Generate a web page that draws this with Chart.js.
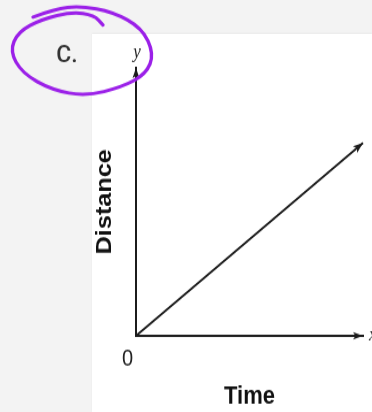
<!DOCTYPE html>
<html>
<head>
<meta charset="utf-8">
<script src="https://cdn.jsdelivr.net/npm/chart.js@4"></script>
<style>
  html, body { margin: 0; padding: 0; width: 372px; height: 412px; overflow: hidden; background: #f3f3f3; }
  #panel { position: absolute; left: 92px; top: 34px; right: 0; bottom: 0; background: #ffffff; box-shadow: 0 -1px 2px rgba(0,0,0,0.04); }
  /* the figure is drawn slightly taller than wide */
  #wrap { position: absolute; left: 0; top: 0; width: 372px; height: 358px; transform: scaleY(1.15); transform-origin: 0 0; }
</style>
</head>
<body>
<div id="panel"></div>
<div id="wrap"><canvas id="c" width="372" height="358"></canvas></div>
<script>
// Distance grows steadily with time
const timeValues = [0, 10];
const distanceValues = [0, 7.2];
const xTickLabels = ['0'];
const xTitle = 'Time';
const yTitle = 'Distance';
const xAxisLetter = 'x';
const yAxisLetter = 'y';
const partLabel = 'C.';

const STRETCH = 1.15;
const INK = '#1c1c1c';

function arrowHead(ctx, x, y, angle, len, half) {
  ctx.save();
  ctx.translate(x, y);
  ctx.rotate(angle);
  ctx.beginPath();
  ctx.moveTo(0, 0);
  ctx.lineTo(-len, -half);
  ctx.lineTo(-len * 0.75, 0);
  ctx.lineTo(-len, half);
  ctx.closePath();
  ctx.fill();
  ctx.restore();
}

// smooth closed-ish freehand loop through the given points
function freehand(ctx, pts) {
  ctx.beginPath();
  ctx.moveTo(pts[0][0], pts[0][1]);
  for (let i = 1; i < pts.length - 1; i++) {
    const mx = (pts[i][0] + pts[i + 1][0]) / 2;
    const my = (pts[i][1] + pts[i + 1][1]) / 2;
    ctx.quadraticCurveTo(pts[i][0], pts[i][1], mx, my);
  }
  const last = pts[pts.length - 1];
  ctx.lineTo(last[0], last[1]);
  ctx.stroke();
}

const decorations = {
  id: 'decorations',
  afterDraw(chart) {
    const ctx = chart.ctx;
    const area = chart.chartArea;
    ctx.save();
    ctx.fillStyle = INK;

    // axis arrowheads
    arrowHead(ctx, area.left, area.top, -Math.PI / 2, 9, 3.5);
    arrowHead(ctx, area.right, area.bottom, 0, 10, 3.2);

    // arrowhead on the distance line
    const pts = chart.getDatasetMeta(0).data;
    const a = pts[pts.length - 2], b = pts[pts.length - 1];
    arrowHead(ctx, b.x, b.y, Math.atan2(b.y - a.y, b.x - a.x), 10, 3.6);

    // axis letters
    ctx.font = 'italic 17px "Liberation Serif", "DejaVu Serif", serif';
    ctx.fillStyle = '#222';
    ctx.textAlign = 'center';
    ctx.textBaseline = 'alphabetic';
    ctx.fillText(yAxisLetter, area.left + 1, 49.5);
    ctx.textAlign = 'left';
    ctx.fillText(xAxisLetter, area.right + 6, area.bottom + 3.5);
    ctx.restore();

    // part label and its hand-drawn ring, drawn unstretched
    ctx.save();
    ctx.scale(1, 1 / STRETCH);
    ctx.fillStyle = '#333';
    ctx.font = '500 23px Roboto, "Liberation Sans", sans-serif';
    ctx.textAlign = 'center';
    ctx.textBaseline = 'middle';
    ctx.fillText(partLabel, 67, 56);

    ctx.strokeStyle = '#9b20e8';
    ctx.lineWidth = 3.4;
    ctx.lineCap = 'round';
    ctx.lineJoin = 'round';
    freehand(ctx, [
      [33, 17], [55, 9], [80, 6], [113, 12], [142, 28], [154, 54], [146, 74],
      [122, 87], [86, 96], [52, 90], [22, 73], [10, 51], [18, 32], [42, 19],
      [72, 12], [94, 15], [103, 25]
    ]);
    ctx.restore();
  }
};

new Chart(document.getElementById('c'), {
  type: 'scatter',
  data: {
    datasets: [{
      data: timeValues.map((t, i) => ({ x: t, y: distanceValues[i] })),
      showLine: true,
      borderColor: INK,
      borderWidth: 2,
      pointRadius: 0,
      clip: false
    }]
  },
  options: {
    responsive: false,
    animation: false,
    devicePixelRatio: 1,
    layout: { padding: { left: 92, right: 9, top: 59, bottom: 0 } },
    plugins: { legend: { display: false }, tooltip: { enabled: false } },
    scales: {
      x: {
        type: 'linear',
        position: 'bottom',
        min: 0,
        max: 10,
        afterFit(scale) { scale.height = 66; },
        grid: { display: false, drawTicks: false },
        border: { display: true, color: INK, width: 2 },
        ticks: {
          stepSize: 10,
          autoSkip: false,
          maxRotation: 0,
          padding: 8,
          labelOffset: -8.5,
          color: '#222',
          font: { family: '"Liberation Sans", Arial, sans-serif', size: 20 },
          callback: (v) => (v === 0 ? xTickLabels[0] : '')
        },
        title: {
          display: true,
          text: xTitle,
          color: '#111',
          padding: 0,
          font: { family: '"Liberation Sans", Arial, sans-serif', size: 22, weight: 'bold' }
        }
      },
      y: {
        type: 'linear',
        position: 'left',
        min: 0,
        max: 10,
        afterFit(scale) { scale.width = 44; },
        grid: { display: false, drawTicks: false },
        border: { display: true, color: INK, width: 2 },
        ticks: { display: false },
        title: {
          display: true,
          text: yTitle,
          color: '#111',
          padding: 0,
          font: { family: '"Liberation Sans", Arial, sans-serif', size: 22, weight: 'bold' }
        }
      }
    }
  },
  plugins: [decorations]
});
</script>
</body>
</html>
